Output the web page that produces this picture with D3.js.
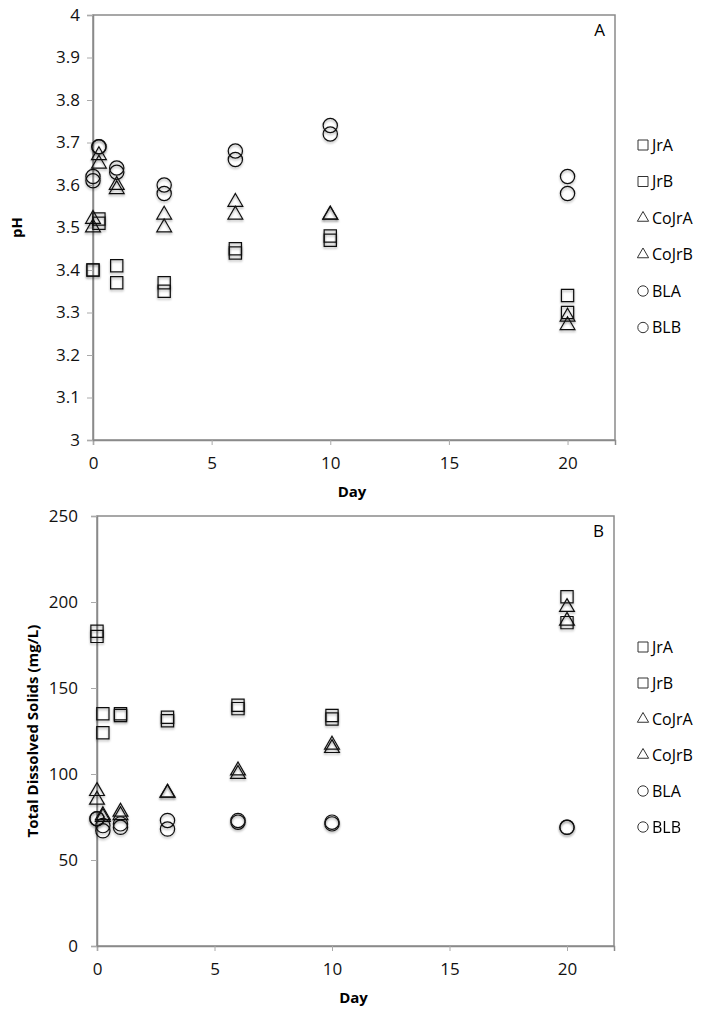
<!DOCTYPE html>
<html>
<head>
<meta charset="utf-8">
<script src="https://cdn.jsdelivr.net/npm/d3@7"></script>
<style>
  body { margin: 0; background: #fff; }
  svg { display: block; font-family: "Open Sans", "DejaVu Sans", sans-serif; }
</style>
</head>
<body>
<svg id="chart" width="717" height="1011"></svg>
<script>
// sampling days (second point is a few hours after day 0)
var days = [0, 0.25, 1, 3, 6, 10, 20];
var seriesNames = ["JrA", "JrB", "CoJrA", "CoJrB", "BLA", "BLB"];
var seriesShapes = ["square", "square", "triangle", "triangle", "circle", "circle"];

// panel A: pH
var phJrA   = [3.40, 3.52, 3.41, 3.37, 3.45, 3.48, 3.34];
var phJrB   = [3.40, 3.51, 3.37, 3.35, 3.44, 3.47, 3.30];
var phCoJrA = [3.52, 3.67, 3.60, 3.53, 3.56, 3.53, 3.29];
var phCoJrB = [3.50, 3.65, 3.59, 3.50, 3.53, 3.53, 3.27];
var phBLA   = [3.62, 3.69, 3.64, 3.60, 3.68, 3.74, 3.62];
var phBLB   = [3.61, 3.69, 3.63, 3.58, 3.66, 3.72, 3.58];
var phTicks = [3, 3.1, 3.2, 3.3, 3.4, 3.5, 3.6, 3.7, 3.8, 3.9, 4];

// panel B: total dissolved solids (mg/L)
var tdsJrA   = [183, 135, 135, 133, 140, 134, 203];
var tdsJrB   = [180, 124, 134, 131, 138, 132, 188];
var tdsCoJrA = [90, 76, 78, 89, 102, 117, 197];
var tdsCoJrB = [85, 75, 76, 89, 100, 115, 189];
var tdsBLA   = [74, 70, 71, 73, 73, 72, 69];
var tdsBLB   = [74, 67, 69, 68, 72, 71, 69];
var tdsTicks = [0, 50, 100, 150, 200, 250];

var dayTicks = [0, 5, 10, 15, 20];

var svg = d3.select("#chart");

var defs = svg.append("defs");
defs.append("filter").attr("id", "shadow")
    .attr("x", "-50%").attr("y", "-50%").attr("width", "200%").attr("height", "200%")
  .append("feDropShadow")
    .attr("dx", 0).attr("dy", 1.5).attr("stdDeviation", 1)
    .attr("flood-color", "#000").attr("flood-opacity", 0.35);

var symbolFor = {
  square: d3.symbol().type(d3.symbolSquare).size(150),
  triangle: d3.symbol().type(d3.symbolTriangle).size(95),
  circle: d3.symbol().type(d3.symbolCircle).size(160)
};
var legendSymbol = {
  square: d3.symbol().type(d3.symbolSquare).size(100),
  triangle: d3.symbol().type(d3.symbolTriangle).size(55),
  circle: d3.symbol().type(d3.symbolCircle).size(85)
};

function drawPanel(p) {
  var x = d3.scaleLinear().domain([0, 22]).range([p.left, p.right]);
  var y = d3.scaleLinear().domain(p.yDomain).range([p.bottom, p.top]);
  var g = svg.append("g");

  // frame
  g.append("rect")
      .attr("x", p.left).attr("y", p.top)
      .attr("width", p.right - p.left).attr("height", p.bottom - p.top)
      .attr("fill", "none").attr("stroke", "#8a8a8a").attr("stroke-width", 1.5);

  var xAxis = d3.axisBottom(x).tickValues(dayTicks).tickSize(5).tickPadding(12).tickFormat(d3.format("d"));
  var yAxis = d3.axisLeft(y).tickValues(p.yTicks).tickSize(6).tickPadding(p.yPad).tickFormat(p.yFormat);

  g.append("g").attr("transform", "translate(0," + p.bottom + ")").call(xAxis).call(styleAxis);
  g.append("g").attr("transform", "translate(" + p.left + ",0)").call(yAxis).call(styleAxis);

  // axis titles
  g.append("text")
      .attr("x", (p.left + p.right) / 2 - 2).attr("y", p.bottom + 57)
      .attr("text-anchor", "middle").attr("font-weight", "bold").attr("font-size", 15)
      .text("Day");
  g.append("text")
      .attr("transform", "translate(" + p.yTitleX + "," + ((p.top + p.bottom) / 2) + ") rotate(-90)")
      .attr("text-anchor", "middle").attr("font-weight", "bold").attr("font-size", 15)
      .text(p.yTitle);

  g.append("text")
      .attr("x", p.right - 10).attr("y", p.top + 21)
      .attr("text-anchor", "end").attr("font-size", 17)
      .text(p.letter);

  // points
  p.series.forEach(function(vals, i) {
    var pts = days.map(function(d, j) { return {day: d, v: vals[j]}; });
    g.append("g").attr("filter", "url(#shadow)")
      .selectAll("path").data(pts).enter().append("path")
        .attr("transform", function(d) { return "translate(" + x(d.day) + "," + y(d.v) + ")"; })
        .attr("d", symbolFor[seriesShapes[i]]())
        .attr("fill", "none").attr("stroke", "#111").attr("stroke-width", 1.2);
  });

  // legend
  var leg = g.append("g").selectAll("g").data(seriesNames).enter().append("g")
      .attr("transform", function(d, i) { return "translate(643," + (p.legendTop + i * p.legendStep) + ")"; });
  leg.append("path")
      .attr("d", function(d, i) { return legendSymbol[seriesShapes[i]](); })
      .attr("fill", "none").attr("stroke", "#333").attr("stroke-width", 1);
  leg.append("text")
      .attr("x", 9).attr("dy", "0.35em").attr("font-size", 16)
      .text(function(d) { return d; });
}

function styleAxis(g) {
  g.select(".domain").attr("stroke", "#8a8a8a").attr("stroke-width", 1.5);
  g.selectAll(".tick line").attr("stroke", "#aaa").attr("stroke-width", 1);
  g.selectAll(".tick text").attr("fill", "#111").attr("font-size", 17)
      .attr("font-family", "Open Sans, DejaVu Sans, sans-serif");
}

drawPanel({
  left: 93, right: 615, top: 15, bottom: 440,
  yDomain: [3, 4], yTicks: phTicks, yFormat: d3.format(""), yPad: 7,
  yTitle: "pH", yTitleX: 22, letter: "A",
  legendTop: 145, legendStep: 36.5,
  series: [phJrA, phJrB, phCoJrA, phCoJrB, phBLA, phBLB]
});

drawPanel({
  left: 97, right: 614, top: 516, bottom: 946,
  yDomain: [0, 250], yTicks: tdsTicks, yFormat: d3.format("d"), yPad: 13,
  yTitle: "Total Dissolved Solids (mg/L)", yTitleX: 38, letter: "B",
  legendTop: 647, legendStep: 36,
  series: [tdsJrA, tdsJrB, tdsCoJrA, tdsCoJrB, tdsBLA, tdsBLB]
});
</script>
</body>
</html>
